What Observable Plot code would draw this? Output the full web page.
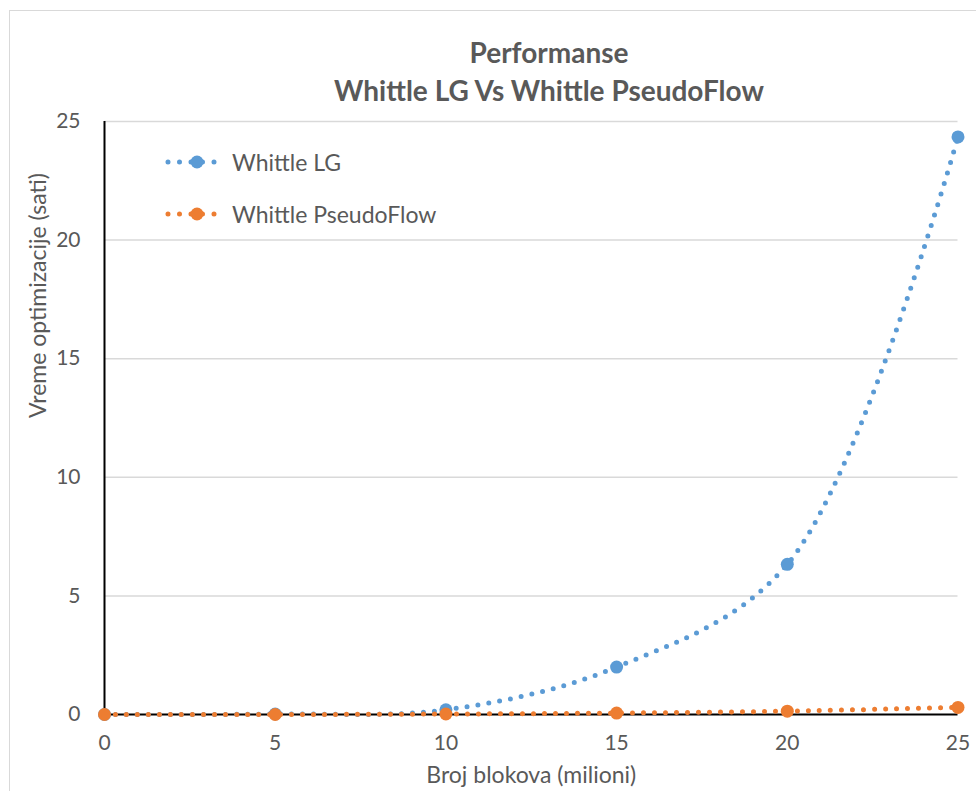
<!DOCTYPE html>
<html>
<head>
<meta charset="utf-8">
<script src="https://cdn.jsdelivr.net/npm/d3@7"></script>
<script src="https://cdn.jsdelivr.net/npm/@observablehq/plot@0.6"></script>
<style>
  body { margin: 0; background: #fff; }
  #wrap { position: relative; width: 976px; height: 791px; overflow: hidden; background: #fff; font-family: Lato, "Open Sans", sans-serif; color: #595959; }
  #frame { position: absolute; left: 9px; top: 10px; width: 1000px; height: 1000px; border: 1.5px solid #d9d9d9; box-sizing: border-box; }
  #title { position: relative; height: 110px; }
  .tl { position: absolute; left: 549px; transform: translate(-50%, -50%); white-space: nowrap; font-weight: bold; font-size: 28px; color: #595959; }
  #legend { position: absolute; left: 164px; top: 149px; font-size: 23px; color: #595959; }
  .li { display: flex; align-items: center; height: 26px; margin-bottom: 26px; }
  .li svg { margin-right: 8px; }
  #chart { position: relative; }
</style>
</head>
<body>
<div id="wrap">
  <div id="frame"></div>
  <div id="title">
    <div class="tl" style="top:52px">Performanse</div>
    <div class="tl" style="top:90px">Whittle LG Vs Whittle PseudoFlow</div>
  </div>
  <div id="chart"></div>
  <div id="legend"></div>
</div>
<script>
// ---- data ----
const blocks = [0, 5, 10, 15, 20, 25];                 // Broj blokova (milioni)
const whittleLG = [0, 0.02, 0.2, 2.0, 6.33, 24.35];    // sati
const whittlePF = [0, 0.0, 0.02, 0.06, 0.14, 0.3];     // sati
const seriesNames = ["Whittle LG", "Whittle PseudoFlow"];
const seriesColors = ["#5B9BD5", "#ED7D31"];
const xTicks = [0, 5, 10, 15, 20, 25];
const yTicks = [0, 5, 10, 15, 20, 25];
const xLabel = "Broj blokova (milioni)";
const yLabel = "Vreme optimizacije (sati)";

const rows = [];
blocks.forEach((b, i) => {
  rows.push({x: b, y: whittleLG[i], s: seriesNames[0]});
});
blocks.forEach((b, i) => {
  rows.push({x: b, y: whittlePF[i], s: seriesNames[1]});
});
const lg = rows.filter(d => d.s === seriesNames[0]);
const pf = rows.filter(d => d.s === seriesNames[1]);

const dotted = {strokeWidth: 5, strokeDasharray: "0 11", strokeLinecap: "round", curve: "catmull-rom"};

const chart = Plot.plot({
  width: 976,
  height: 681,
  marginTop: 11,
  marginBottom: 77,
  marginLeft: 104,
  marginRight: 18.5,
  style: {background: "transparent", fontFamily: "Lato, 'Open Sans', sans-serif", fontSize: "20px", color: "#595959", overflow: "visible"},
  x: {domain: [0, 25], ticks: xTicks},
  y: {domain: [0, 25], ticks: yTicks},
  marks: [
    Plot.gridY(yTicks.filter(t => t > 0), {stroke: "#d9d9d9", strokeOpacity: 1, strokeWidth: 1.5}),
    Plot.axisY(yTicks, {tickSize: 0, tickPadding: 24, fontSize: 21, fill: "#595959", label: null}),
    Plot.axisX(xTicks, {tickSize: 0, tickPadding: 21, fontSize: 21, fill: "#595959", label: null}),
    Plot.text([yLabel], {frameAnchor: "left", rotate: -90, dx: -66, fontSize: 23, fill: "#595959"}),
    Plot.text([xLabel], {frameAnchor: "bottom", dy: 68, fontSize: 23, fill: "#595959"}),
    Plot.ruleX([0], {stroke: "#000", strokeWidth: 2}),
    Plot.ruleY([0], {stroke: "#000", strokeWidth: 2}),
    Plot.line(lg, {x: "x", y: "y", stroke: seriesColors[0], ...dotted}),
    Plot.dot(lg, {x: "x", y: "y", r: 6.5, fill: seriesColors[0]}),
    Plot.line(pf, {x: "x", y: "y", stroke: seriesColors[1], ...dotted}),
    Plot.dot(pf, {x: "x", y: "y", r: 6.5, fill: seriesColors[1]})
  ]
});
document.getElementById("chart").appendChild(chart);

// legend
const legend = document.getElementById("legend");
seriesNames.forEach((name, i) => {
  const c = seriesColors[i];
  const item = document.createElement("div");
  item.className = "li";
  item.innerHTML = `<svg width="60" height="16"><line x1="4" y1="8" x2="56" y2="8" stroke="${c}" stroke-width="5" stroke-linecap="round" stroke-dasharray="0 11.5"/><circle cx="33" cy="8" r="6.5" fill="${c}"/></svg><span>${name}</span>`;
  legend.appendChild(item);
});
</script>
</body>
</html>
